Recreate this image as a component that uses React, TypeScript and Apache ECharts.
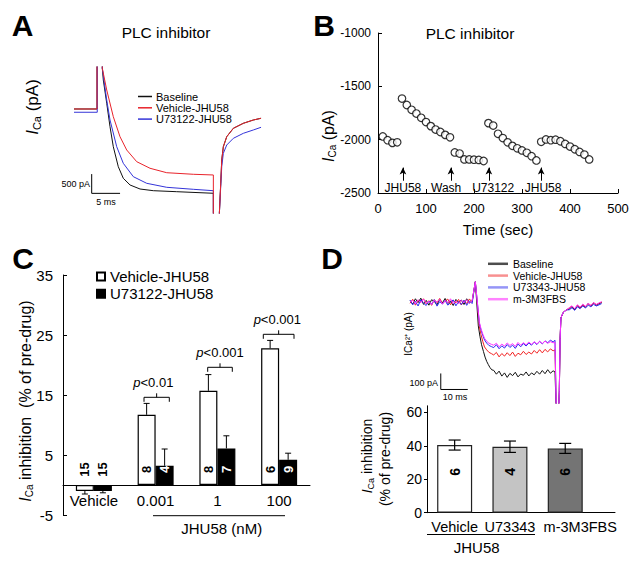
import React, { useEffect, useRef } from 'react';
import * as echarts from 'echarts';

const FONT = "'Liberation Sans', Arial, Helvetica, sans-serif";

// ---------- Panel A: current traces [time ms, current pA] ----------
const aBaselineTrace = [[0,0],[4.06,0],[4.06,1500],[4.95,1500],[4.99,1057],[5.17,753],[5.77,148],[6.35,-459],[6.93,-979],[7.81,-1498],[8.69,-1799],[9.88,-1973],[11.64,-2077],[13.99,-2121],[18.11,-2147],[24.57,-2188],[24.57,-3000],[25.6,-3000],[25.63,-2708],[25.87,-1929],[26.05,-1324],[26.33,-979],[26.93,-719],[28.1,-501],[29.86,-371],[31.62,-286],[32.98,-241]];
const aVehicleTrace = [[0,0],[4.06,0],[4.06,1500],[4.95,1500],[4.99,1057],[5.77,493],[6.93,-200],[8.11,-719],[9.29,-1064],[11.06,-1368],[13.4,-1539],[16.35,-1654],[21.04,-1695],[24.57,-1713],[24.57,-3000],[25.6,-3000],[25.63,-2708],[25.87,-1929],[26.05,-1324],[26.33,-979],[26.93,-719],[28.1,-501],[29.86,-371],[31.62,-286],[32.98,-241]];
const aU73122Trace = [[0,-85],[4.1,-85],[4.1,1500],[4.95,1500],[4.99,1057],[5.77,234],[6.35,-286],[7.53,-979],[8.69,-1410],[10.46,-1757],[12.82,-1929],[16.35,-2033],[21.04,-2085],[24.57,-2121],[24.57,-3000],[25.6,-3000],[25.63,-2708],[25.87,-2017],[26.05,-1498],[26.33,-1150],[26.93,-935],[28.1,-761],[29.86,-631],[31.62,-545],[32.98,-475]];
const aScaleBar = [[3.12,-1690],[3.12,-2190],[8.12,-2190]];

// ---------- Panel B: time course ----------
const bTime = [10,20,30,40,50,60,70,80,90,100,110,120,130,140,150,160,170,180,190,200,210,220,230,240,250,260,270,280,290,300,310,320,330,340,350,360,370,380,390,400,410,420,430,440];
const bCurrent = [-1970,-2005,-2030,-2025,-1615,-1675,-1720,-1755,-1795,-1835,-1873,-1905,-1928,-1955,-1978,-2120,-2130,-2185,-2185,-2188,-2190,-2200,-1845,-1868,-1945,-1985,-2025,-2058,-2081,-2101,-2123,-2155,-2195,-2020,-1998,-2005,-2000,-2015,-2040,-2065,-2090,-2115,-2140,-2185];
const bArrowTimes = [52, 152, 231, 340];
const bEventLabels = ['JHU58', 'Wash', 'U73122', 'JHU58'];
const bEventLabelTimes = [52, 142, 240, 344];

// ---------- Panel C: bars ----------
const cCategories = ['Vehicle', '0.001', '1', '100'];
const cVehicle = [-1.0, 11.7, 15.7, 22.8];
const cVehicleErr = [0.5, 1.9, 2.7, 1.3];
const cU73122 = [-1.0, 3.2, 6.1, 4.2];
const cU73122Err = [0.3, 2.8, 2.1, 1.1];
const cVehicleN = [15, 8, 8, 6];
const cU73122N = [15, 4, 7, 9];

// ---------- Panel D: traces ----------
const dPreTimes = [0,1,2,3,4,5,6,7,8,9,10,11,12,13,14,15,16,17,18,19,20,21,22,23];
const dPlateauTimes = [31,32,33,34,35,36,37,38,39,40,41,42,43,44,45,46,47,48,49,50,51,52,53];
const dPostTimes = [59,60,61,62,63,64,65,66,67,68,69,70,71];
const dSpike = [[24.2,125]];
const dRecovery = [[54.2,-700],[55.0,-700],[55.3,-562],[55.6,-230],[55.9,-100],[56.8,-65],[58,-50]];

const dBaselinePre = [6,-14,19,-5,23,-16,9,-21,13,2,-19,16,-7,21,-11,5,-23,15,-3,11,-17,19,-8,4];
const dBaselineDecay = [[25.3,-150],[25.9,-215],[26.5,-268],[27.2,-310],[27.8,-345],[28.4,-372],[29.0,-392],[29.6,-410],[30.3,-425]];
const dBaselinePlateau = [-428,-452,-433,-464,-444,-472,-447,-461,-440,-469,-451,-459,-438,-463,-444,-456,-434,-452,-429,-449,-424,-446,-431];
const dBaselineEnd = [[53.7,-438]];
const dBaselinePost = [-45,-30,-50,-24,-40,-18,-34,-10,-27,-7,-21,-12,-4];

const dVehiclePre = [-9,16,-21,11,-3,19,-13,7,-22,13,-5,21,-11,4,17,-19,10,-6,15,-20,8,-11,18,-2];
const dVehicleDecay = [[25.7,-156],[26.3,-205],[27.0,-250],[27.6,-282],[28.4,-300],[29.2,-315],[30.2,-324]];
const dVehiclePlateau = [-332,-316,-344,-323,-339,-318,-336,-314,-341,-321,-331,-309,-329,-314,-326,-304,-321,-299,-319,-297,-313,-294,-306];
const dVehicleEnd = [[53.7,-300]];
const dVehiclePost = [-38,-27,-44,-21,-36,-19,-29,-13,-23,-7,-17,-9,-2];

const dU73343Pre = [11,-19,3,-26,13,-9,-23,5,-16,14,-27,1,-13,9,-21,-4,12,-25,2,-17,10,-22,6,-11];
const dU73343Decay = [[25.7,-135],[26.3,-175],[27.0,-212],[27.6,-238],[28.4,-258],[29.2,-272],[30.2,-280]];
const dU73343Plateau = [-286,-268,-293,-275,-289,-267,-285,-271,-291,-264,-281,-261,-276,-257,-271,-251,-267,-247,-263,-244,-256,-239,-251];
const dU73343End = [[53.7,-240]];
const dU73343Post = [-50,-37,-53,-31,-43,-26,-39,-21,-31,-16,-26,-19,-11];

const dM3Pre = [-1,9,-14,13,-5,17,-9,3,-17,11,-3,15,-15,7,-7,19,-11,5,-13,11,-5,13,-9,7];
const dM3Decay = [[25.7,-128],[26.3,-168],[27.0,-203],[27.6,-228],[28.4,-246],[29.2,-258],[30.2,-266]];
const dM3Plateau = [-271,-259,-281,-264,-277,-257,-273,-261,-279,-254,-271,-255,-269,-251,-266,-249,-263,-247,-261,-245,-259,-249,-256];
const dM3End = [[53.7,-252]];
const dM3Post = [-37,-25,-43,-19,-33,-15,-29,-9,-23,-5,-17,-7,1];

const dScaleBar = [[11.4,-447.5],[11.4,-547.5],[21.4,-547.5]];

// ---------- Panel D: bars ----------
const dCategories = ['Vehicle', 'U73343', 'm-3M3FBS'];
const dPositions = [0.5, 1.5, 2.5];
const dValues = [40.5, 39.5, 38.5];
const dErr = [3.0, 3.4, 3.0];
const dN = [6, 4, 6];
const dColors = ['#ffffff', '#c4c4c4', '#747474'];

function zip(times: number[], vals: number[]) {
  return times.map((t, i) => [t, vals[i]]);
}
function buildTrace(pre: number[], decay: number[][], plateau: number[], end: number[][], post: number[]) {
  return [
    ...zip(dPreTimes, pre),
    ...dSpike,
    ...decay,
    ...zip(dPlateauTimes, plateau),
    ...end,
    ...dRecovery,
    ...zip(dPostTimes, post),
  ];
}

function txt(x: number, y: number, text: string, fontSize: number, extra: any = {}) {
  const { rotation, ...style } = extra;
  return {
    type: 'text', x, y, rotation: rotation || 0, silent: true,
    style: { text, fontSize, fontFamily: FONT, fill: '#000', align: 'center', verticalAlign: 'middle', ...style },
  };
}
function richICa(x: number, y: number, rest: string, size: number, subSize: number) {
  return {
    type: 'text', x, y, rotation: Math.PI / 2, silent: true,
    style: {
      text: '{i|I}{s|Ca}{n|' + rest + '}',
      fontFamily: FONT, fontSize: size, fill: '#000', align: 'center', verticalAlign: 'middle',
      rich: {
        i: { fontSize: size, fontStyle: 'italic', fontFamily: FONT, fill: '#000' },
        s: { fontSize: subSize, fontFamily: FONT, fill: '#000', padding: [Math.round(size * 0.55), 0, 0, 0] },
        n: { fontSize: size, fontFamily: FONT, fill: '#000' },
      },
    },
  };
}
function line(x1: number, y1: number, x2: number, y2: number) {
  return { type: 'line', silent: true, shape: { x1, y1, x2, y2 }, style: { stroke: '#000', lineWidth: 1 } };
}
function bracket(x1: number, x2: number, y: number) {
  const cx = (x1 + x2) / 2;
  return [
    { type: 'polyline', silent: true, shape: { points: [[x1, y + 4.5], [x1, y], [x2, y], [x2, y + 4.5]] }, style: { stroke: '#000', lineWidth: 1, fill: null } },
    line(cx, y, cx, y - 4),
  ];
}
function pText(x: number, y: number, rest: string) {
  return {
    type: 'text', x, y, silent: true,
    style: {
      text: '{p|p}{n|' + rest + '}', fontFamily: FONT, fontSize: 13, fill: '#000', align: 'center', verticalAlign: 'middle',
      rich: { p: { fontStyle: 'italic', fontSize: 13, fontFamily: FONT, fill: '#000' }, n: { fontSize: 13, fontFamily: FONT, fill: '#000' } },
    },
  };
}

const axisLineStyle = { lineStyle: { color: '#000', width: 1 } };

export default function App() {
  const ref = useRef<HTMLDivElement>(null);
  useEffect(() => {
    document.body.style.margin = '0';
    const chart = echarts.init(ref.current as HTMLDivElement, null, { renderer: 'svg' });

    const cErr = (offset: number) => (params: any, api: any) => {
      const x = api.value(0), y = api.value(1), e = api.value(2);
      const tip = y >= 0 ? y + e : y - e;
      const p0 = api.coord([x, y]);
      const p1 = api.coord([x, tip]);
      const cx = p0[0] + offset;
      return {
        type: 'group', children: [
          { type: 'line', shape: { x1: cx, y1: p0[1], x2: cx, y2: p1[1] }, style: { stroke: '#000', lineWidth: 1 } },
          { type: 'line', shape: { x1: cx - 3, y1: p1[1], x2: cx + 3, y2: p1[1] }, style: { stroke: '#000', lineWidth: 1 } },
        ],
      };
    };
    // value(3) > 0 means label sits on a filled (black) bar -> white text
    const countLabel = (offset: number, size: number) => (params: any, api: any) => {
      const p = api.coord([api.value(0), api.value(1)]);
      return {
        type: 'text', x: p[0] + offset, y: p[1], rotation: Math.PI / 2,
        style: {
          text: String(api.value(2)), fontSize: size, fontWeight: 'bold', fontFamily: FONT,
          fill: api.value(3) > 0 ? '#fff' : '#000', align: 'center', verticalAlign: 'middle',
        },
      };
    };
    const dErrRender = (params: any, api: any) => {
      const x = api.value(0), y = api.value(1), e = api.value(2);
      const pt = api.coord([x, y + e]);
      const pb = api.coord([x, y - e]);
      const cx = pt[0];
      return {
        type: 'group', children: [
          { type: 'line', shape: { x1: cx, y1: pt[1], x2: cx, y2: pb[1] }, style: { stroke: '#000', lineWidth: 1.2 } },
          { type: 'line', shape: { x1: cx - 6, y1: pt[1], x2: cx + 6, y2: pt[1] }, style: { stroke: '#000', lineWidth: 1.2 } },
          { type: 'line', shape: { x1: cx - 6, y1: pb[1], x2: cx + 6, y2: pb[1] }, style: { stroke: '#000', lineWidth: 1.2 } },
        ],
      };
    };
    const bLabelRender = (params: any, api: any) => {
      const p = api.coord([api.value(0), api.value(1)]);
      return {
        type: 'text', x: p[0], y: p[1],
        style: { text: bEventLabels[params.dataIndex], fontSize: 12, fontFamily: FONT, fill: '#000', align: 'center', verticalAlign: 'middle' },
      };
    };

    const stripName = (n: string) => n.split('|')[1];
    const traceLine = (name: string, data: any, color: string, xi: number, width = 1) => ({
      name, type: 'line', xAxisIndex: xi, yAxisIndex: xi, data, showSymbol: false, symbol: 'none',
      lineStyle: { color, width }, itemStyle: { color }, clip: true, silent: true,
    });

    const option: any = {
      animation: false,
      backgroundColor: '#fff',
      textStyle: { fontFamily: FONT },
      grid: [
        { left: 74, top: 67, width: 190, height: 146 },
        { left: 378, top: 33, width: 240, height: 160 },
        { left: 63, top: 275, width: 247, height: 240 },
        { left: 410, top: 281, width: 191.7, height: 122 },
        { left: 427, top: 405.8, width: 188, height: 106.9 },
      ],
      xAxis: [
        { type: 'value', gridIndex: 0, min: 0, max: 33.5, show: false },
        {
          type: 'value', gridIndex: 1, min: 0, max: 500, interval: 100,
          name: 'Time (sec)', nameLocation: 'middle', nameGap: 29, nameTextStyle: { fontSize: 15, color: '#000', fontFamily: FONT },
          axisLine: axisLineStyle, axisTick: { inside: true, length: 4, lineStyle: { color: '#000' } },
          axisLabel: { fontSize: 13, color: '#000', margin: 9, fontFamily: FONT }, splitLine: { show: false },
        },
        {
          type: 'category', gridIndex: 2, data: cCategories,
          axisLine: { onZero: true, lineStyle: { color: '#000', width: 1 } }, axisTick: { show: false },
          axisLabel: { fontSize: 15, color: '#000', margin: -22, fontFamily: FONT, interval: 0 },
        },
        { type: 'value', gridIndex: 3, min: 0, max: 71, show: false },
        {
          type: 'value', gridIndex: 4, min: 0, max: 3.4, interval: 0.5,
          axisLine: axisLineStyle, axisTick: { show: false }, splitLine: { show: false },
          axisLabel: {
            fontSize: 14.5, color: '#000', margin: 7, fontFamily: FONT, showMaxLabel: false,
            formatter: (v: number) => {
              const i = dPositions.indexOf(v);
              if (i < 0) return '';
              return i === 2 ? '{r|' + dCategories[i] + '}' : dCategories[i];
            },
            rich: { r: { fontSize: 14.5, color: '#000', fontFamily: FONT, padding: [0, 0, 0, 30] } },
          },
        },
      ],
      yAxis: [
        { type: 'value', gridIndex: 0, min: -2700, max: 1090, show: false },
        {
          type: 'value', gridIndex: 1, min: -2500, max: -1000, interval: 500,
          axisLine: { show: true, ...axisLineStyle }, axisTick: { show: true, inside: true, length: 4, lineStyle: { color: '#000' } },
          axisLabel: { fontSize: 12, color: '#000', margin: 7, fontFamily: FONT, formatter: (v: number) => String(v) },
          splitLine: { show: false },
        },
        {
          type: 'value', gridIndex: 2, min: -5, max: 35, interval: 10,
          axisLine: { show: true, onZero: false, ...axisLineStyle }, axisTick: { show: true, inside: true, length: 4, lineStyle: { color: '#000' } },
          axisLabel: { fontSize: 15, color: '#000', margin: 10, fontFamily: FONT }, splitLine: { show: false },
        },
        { type: 'value', gridIndex: 3, min: -632, max: 130, show: false },
        {
          type: 'value', gridIndex: 4, min: 0, max: 64, interval: 20,
          axisLine: { show: true, ...axisLineStyle }, axisTick: { show: true, length: 3, lineStyle: { color: '#000' } },
          axisLabel: { fontSize: 14, color: '#000', margin: 5, fontFamily: FONT, showMaxLabel: false }, splitLine: { show: false },
        },
      ],
      legend: [
        {
          data: ['A|Baseline', 'A|Vehicle-JHU58', 'A|U73122-JHU58'], formatter: stripName,
          left: 138, top: 91, orient: 'vertical', padding: 0, itemGap: 0.3, itemWidth: 14, itemHeight: 1.5, icon: 'rect',
          selectedMode: false, textStyle: { fontSize: 11, color: '#000', fontFamily: FONT, padding: [0, 0, 0, -1] },
        },
        {
          data: ['C|Vehicle-JHU58', 'C|U73122-JHU58'], formatter: stripName,
          left: 96, top: 269, orient: 'vertical', padding: 0, itemGap: 2.3, itemWidth: 8, itemHeight: 8, icon: 'rect',
          selectedMode: false, textStyle: { fontSize: 15, color: '#000', fontFamily: FONT },
        },
        {
          data: [
            { name: 'D|Baseline', itemStyle: { opacity: 0.75 } },
            { name: 'D|Vehicle-JHU58', itemStyle: { opacity: 0.5 } },
            { name: 'D|U73343-JHU58', itemStyle: { opacity: 0.5 } },
            { name: 'D|m-3M3FBS', itemStyle: { opacity: 0.6 } },
          ],
          formatter: stripName,
          left: 488, top: 258.3, orient: 'vertical', padding: 0, itemGap: 0.8, itemWidth: 20, itemHeight: 2.5, icon: 'rect',
          selectedMode: false, textStyle: { fontSize: 10.5, color: '#000', fontFamily: FONT },
        },
      ],
      series: [
        // Panel A
        traceLine('A|Baseline', aBaselineTrace, '#111111', 0),
        traceLine('A|U73122-JHU58', aU73122Trace, '#3434d8', 0),
        traceLine('A|Vehicle-JHU58', aVehicleTrace, '#e8232b', 0),
        traceLine('A|scale', aScaleBar, '#000000', 0),
        // Panel B
        {
          name: 'B|points', type: 'scatter', xAxisIndex: 1, yAxisIndex: 1,
          data: bTime.map((t, i) => [t, bCurrent[i]]), symbol: 'circle', symbolSize: 7.5,
          itemStyle: { color: '#ffffff', borderColor: '#000', borderWidth: 1.2 }, silent: true,
          markLine: {
            silent: true, symbol: ['none', 'arrow'], symbolSize: [5, 7], label: { show: false },
            lineStyle: { color: '#000', width: 1, type: 'solid' },
            data: bArrowTimes.map((t) => [{ coord: [t, -2385] }, { coord: [t, -2262] }]),
          },
        },
        {
          name: 'B|labels', type: 'custom', xAxisIndex: 1, yAxisIndex: 1, silent: true,
          data: bEventLabelTimes.map((t) => [t, -2452]), renderItem: bLabelRender, clip: false,
        },
        // Panel C
        {
          name: 'C|Vehicle-JHU58', type: 'bar', xAxisIndex: 2, yAxisIndex: 2, data: cVehicle,
          barWidth: 18, barGap: '0%', itemStyle: { color: '#ffffff', borderColor: '#000', borderWidth: 1.2 }, silent: true,
        },
        {
          name: 'C|U73122-JHU58', type: 'bar', xAxisIndex: 2, yAxisIndex: 2, data: cU73122,
          barWidth: 18, barGap: '0%', itemStyle: { color: '#000000', borderColor: '#000', borderWidth: 1.2 }, silent: true,
        },
        {
          name: 'C|errV', type: 'custom', xAxisIndex: 2, yAxisIndex: 2, silent: true,
          data: cVehicle.map((v, i) => [i, v, cVehicleErr[i]]), renderItem: cErr(-9), z: 3,
        },
        {
          name: 'C|errU', type: 'custom', xAxisIndex: 2, yAxisIndex: 2, silent: true,
          data: cU73122.map((v, i) => [i, v, cU73122Err[i]]), renderItem: cErr(9), z: 3,
        },
        {
          name: 'C|nV', type: 'custom', xAxisIndex: 2, yAxisIndex: 2, silent: true,
          data: cVehicleN.map((n, i) => [i, 2.6, n, 0]), renderItem: countLabel(-9, 13), z: 4,
        },
        {
          name: 'C|nU', type: 'custom', xAxisIndex: 2, yAxisIndex: 2, silent: true,
          data: cU73122N.map((n, i) => [i, 2.6, n, cU73122[i] > 2.6 ? 1 : 0]), renderItem: countLabel(9, 13), z: 4,
        },
        // Panel D traces
        traceLine('D|Baseline', buildTrace(dBaselinePre, dBaselineDecay, dBaselinePlateau, dBaselineEnd, dBaselinePost), '#111111', 3),
        traceLine('D|Vehicle-JHU58', buildTrace(dVehiclePre, dVehicleDecay, dVehiclePlateau, dVehicleEnd, dVehiclePost), '#f22222', 3),
        traceLine('D|U73343-JHU58', buildTrace(dU73343Pre, dU73343Decay, dU73343Plateau, dU73343End, dU73343Post), '#2b2bf0', 3),
        traceLine('D|m-3M3FBS', buildTrace(dM3Pre, dM3Decay, dM3Plateau, dM3End, dM3Post), '#ff30ff', 3),
        traceLine('D|scale', dScaleBar, '#000000', 3),
        // Panel D bars
        {
          name: 'D|bars', type: 'bar', xAxisIndex: 4, yAxisIndex: 4, barWidth: 35, silent: true,
          data: dValues.map((v, i) => ({ value: [dPositions[i], v], itemStyle: { color: dColors[i] } })),
          itemStyle: { borderColor: '#222', borderWidth: 1.2 },
        },
        {
          name: 'D|err', type: 'custom', xAxisIndex: 4, yAxisIndex: 4, silent: true, z: 3,
          data: dValues.map((v, i) => [dPositions[i], v, dErr[i]]), renderItem: dErrRender,
        },
        {
          name: 'D|n', type: 'custom', xAxisIndex: 4, yAxisIndex: 4, silent: true, z: 4,
          data: dN.map((n, i) => [dPositions[i], 24.5, n, 0]), renderItem: countLabel(0, 14),
        },
      ],
      graphic: [
        txt(22.5, 25, 'A', 30, { fontWeight: 'bold' }),
        txt(324, 25, 'B', 30, { fontWeight: 'bold' }),
        txt(23, 258, 'C', 30, { fontWeight: 'bold' }),
        txt(332, 258, 'D', 30, { fontWeight: 'bold' }),
        txt(166, 32, 'PLC inhibitor', 15.5),
        txt(470, 33, 'PLC inhibitor', 15.5),
        richICa(32, 107, ' (pA)', 17, 11),
        richICa(328, 136, ' (pA)', 16, 10),
        richICa(25, 401, ' inhibition  (% of pre-drug)', 16, 10),
        richICa(367, 456, ' inhibition', 14, 9),
        txt(385, 459, '(% of pre-drug)', 14, { rotation: Math.PI / 2 }),
        txt(408, 334, 'ICa\u00B2\u207A (pA)', 10, { rotation: Math.PI / 2 }),
        txt(90, 184, '500 pA', 9, { align: 'right' }),
        txt(106, 202, '5 ms', 9),
        txt(438, 383, '100 pA', 9, { align: 'right' }),
        txt(455, 397, '10 ms', 9),
        pText(153.3, 382.7, '<0.01'),
        pText(220, 352.7, '<0.001'),
        pText(277.3, 319.3, '<0.001'),
        ...bracket(144, 169.3, 397.3),
        ...bracket(207.7, 232.3, 367.3),
        ...bracket(263.3, 294, 334.3),
        line(153, 515.7, 285, 515.7),
        txt(221.7, 528.5, 'JHU58 (nM)', 15),
        line(427, 534.5, 535, 534.5),
        txt(476.7, 547, 'JHU58', 15),
      ],
    };
    chart.setOption(option);
    return () => chart.dispose();
  }, []);
  return <div ref={ref} style={{ width: 641, height: 564 }} />;
}
